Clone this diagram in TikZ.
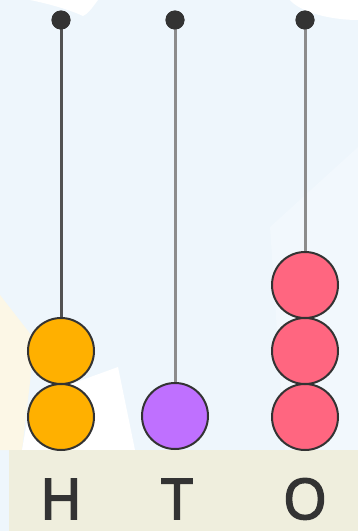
\documentclass[tikz,border=0pt]{standalone}
\usepackage{fontspec}
\setmainfont{Open Sans}[FakeBold=3]
\definecolor{bgblue}{HTML}{EEF6FC}
\definecolor{bglight}{HTML}{F2F8FD}
\definecolor{bgcream}{HTML}{FCF7E6}
\definecolor{basecol}{HTML}{EFEEDD}
\definecolor{ink}{HTML}{333333}
\definecolor{rodgray}{HTML}{8C8C8C}
\definecolor{beadorange}{HTML}{FFB000}
\definecolor{beadpurple}{HTML}{BF70FF}
\definecolor{beadpink}{HTML}{FF6680}
\tikzset{
  bead/.style={circle, draw=ink, line width=2pt, minimum size=66pt, inner sep=0pt},
  topdot/.style={circle, fill=ink, minimum size=19pt, inner sep=0pt},
  rod/.style={draw=rodgray, line width=3pt},
  placelabel/.style={anchor=base, text=ink, font=\fontsize{56}{60}\selectfont, inner sep=0pt}
}
\begin{document}
\begin{tikzpicture}[x=1pt, y=-1pt]
\useasboundingbox (0,0) rectangle (358,531);
% background
\fill[bgblue] (0,0) rectangle (358,531);
\fill[white] (30,0) -- (98,0) .. controls (92,8) and (88,14) .. (83,16) .. controls (70,10) and (50,4) .. (30,0) -- cycle;
\fill[white] (290,0) -- (358,0) -- (358,20) .. controls (330,20) and (300,12) .. (290,0) -- cycle;
\fill[bglight] (358,147) -- (270,227) -- (285,450) -- (358,450) -- cycle;
\fill[bgcream] (0,295) -- (35,340) -- (22,450) -- (0,450) -- cycle;
\fill[white] (22,450) -- (30,405) -- (60,388) -- (118,367) -- (135,450) -- cycle;
\fill[basecol] (9,450) rectangle (358,531);
% beads and rods
\node[topdot] (dh) at (61,20) {};
\node[topdot] (dt) at (175,20) {};
\node[topdot] (do) at (305,20) {};
\node[bead, fill=beadorange] (h2) at (61,417) {};
\node[bead, fill=beadorange] (h1) at (61,351) {};
\node[bead, fill=beadpurple] (t1) at (175,416) {};
\node[bead, fill=beadpink] (o3) at (305,417) {};
\node[bead, fill=beadpink] (o2) at (305,351) {};
\node[bead, fill=beadpink] (o1) at (305,285) {};
\draw[rod, draw=ink!85] (dh.center) -- (h1.north);
\draw[rod] (dt.center) -- (t1.north);
\draw[rod] (do.center) -- (o1.north);
\node[topdot] at (dh) {};
\node[topdot] at (dt) {};
\node[topdot] at (do) {};
% labels
\node[placelabel] (lh) at (61,519) {H};
\node[placelabel] (lt) at (177,519) {T};
\node[placelabel] (lo) at (305,519) {O};
\end{tikzpicture}
\end{document}
